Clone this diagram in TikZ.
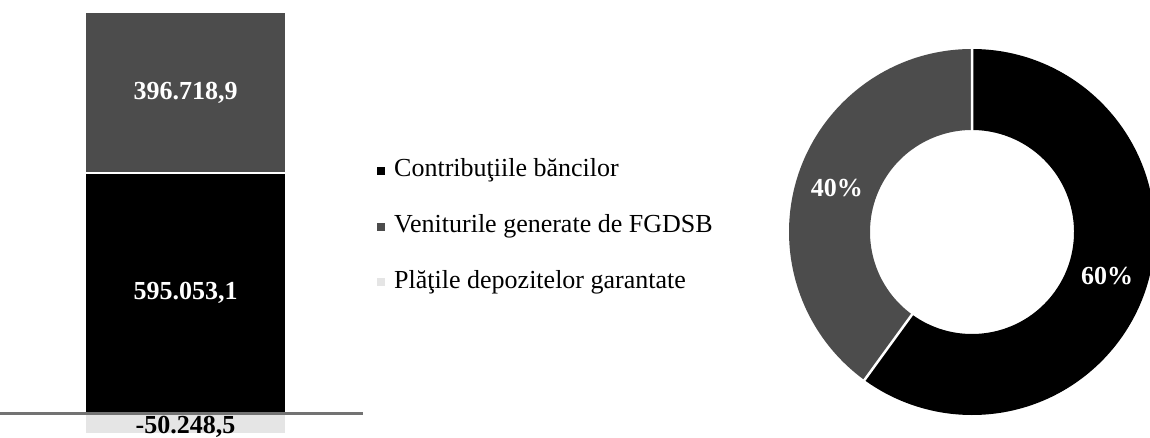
\documentclass[tikz,border=0pt]{standalone}
\usepackage{fontspec}
\setmainfont{Liberation Serif}
\usetikzlibrary{positioning,calc}
\definecolor{dotgray}{gray}{0.3}
\definecolor{lightdot}{gray}{0.9}
\begin{document}
\begin{tikzpicture}[x=1pt,y=-1pt,
  seg/.style={minimum width=199pt,inner sep=0pt,outer sep=0pt,draw=none,rectangle,node distance=0pt},
  val/.style={font=\fontsize{26}{30}\selectfont\bfseries,text=white,inner sep=0pt},
  leg/.style={font=\fontsize{26}{30}\selectfont,anchor=base west,inner sep=0pt,text height=18pt,text depth=6pt},
  legmark/.style={minimum size=8pt,inner sep=0pt,outer sep=0pt,rectangle}]

        \useasboundingbox (0,0) rectangle (1150,438);

        % bar
        \node (cb) [seg,fill=black,minimum height=238pt] at (185.5,293) {};
        \node (vg) [seg,fill=dotgray,minimum height=158.7pt,above = 2pt of cb] {};
        \node (pd) [seg,fill=lightdot,minimum height=20pt,below = 1pt of cb] {};
        \node (vcb) [val] at (cb) {595.053,1};
        \node (vvg) [val] at (vg) {396.718,9};
        \node (vpd) [val,text=black] at ($(pd.center)+(0,4)$) {-50.248,5};

        \coordinate (ax0) at (0,413);
        \coordinate (ax1) at (363,413);
        \draw[line width=3pt,black!55] (ax0) -- (ax1);

        % legend
        \node (t1) [leg] at (394,177) {Contribuţiile băncilor};
        \node (t2) [leg] at (394,233) {Veniturile generate de FGDSB};
        \node (t3) [leg] at (394,288) {Plăţile depozitelor garantate};
        \node (m1) [legmark,fill=black,left = 9pt of t1] {};
        \node (m2) [legmark,fill=dotgray,left = 9pt of t2] {};
        \node (m3) [legmark,fill=lightdot,left = 9pt of t3] {};

        % donut
        \coordinate (dc) at (972,232);
        \fill[black] ($(dc)+(90:183pt)$) arc[start angle=90,end angle=-126,radius=183pt]
          -- ($(dc)+(-126:102pt)$) arc[start angle=-126,end angle=90,radius=102pt] -- cycle;
        \fill[dotgray] ($(dc)+(90:183pt)$) arc[start angle=90,end angle=234,radius=183pt]
          -- ($(dc)+(234:102pt)$) arc[start angle=234,end angle=90,radius=102pt] -- cycle;
        \draw[white,line width=2.5pt] ($(dc)+(90:100pt)$) -- ($(dc)+(90:185pt)$)
          ($(dc)+(-126:100pt)$) -- ($(dc)+(-126:185pt)$);

        \node (p60) [val] at ($(dc)+(-18:142pt)$) {60\%};
        \node (p40) [val] at ($(dc)+(162:142pt)$) {40\%};
      \end{tikzpicture}
\end{document}
